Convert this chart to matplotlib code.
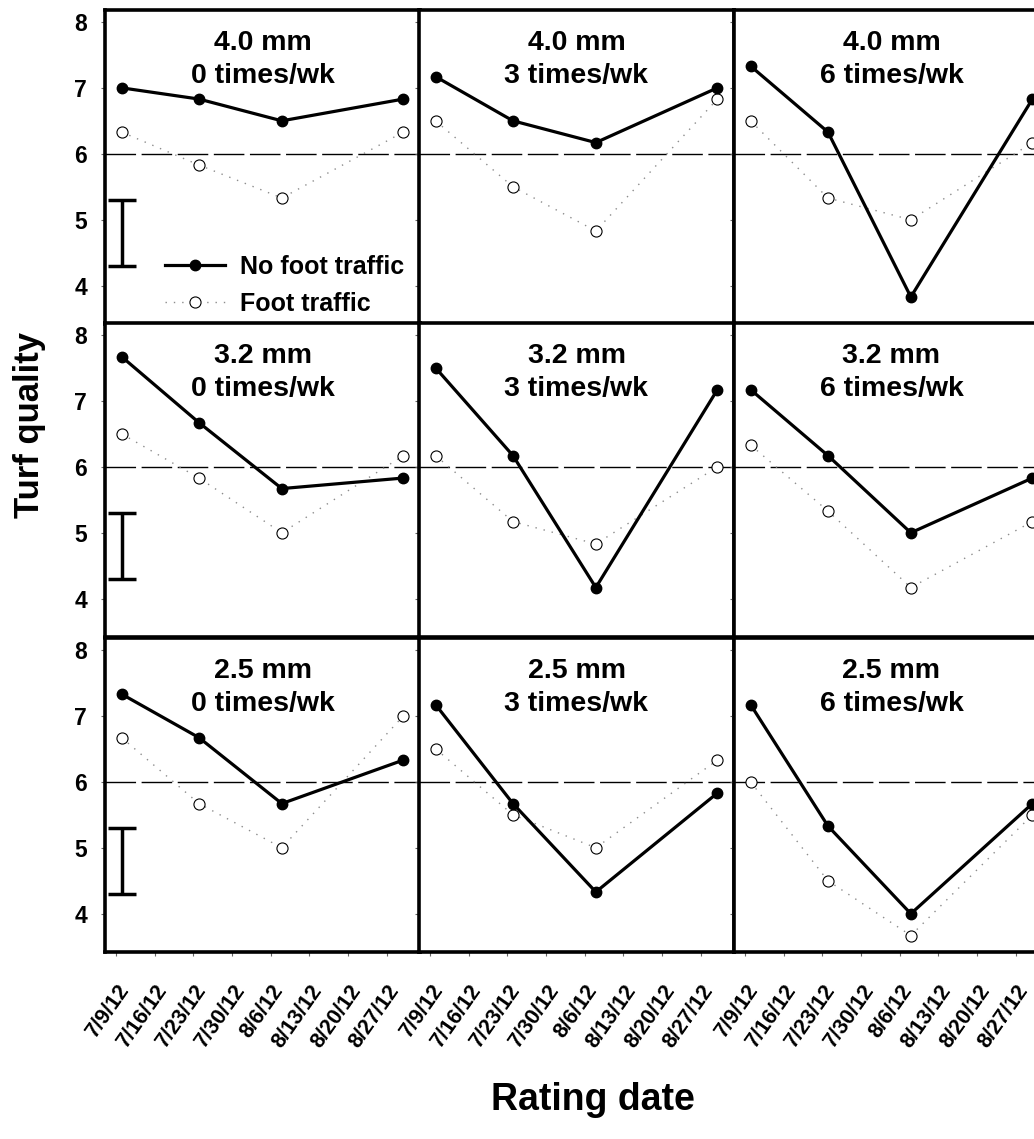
import numpy as np
import matplotlib
matplotlib.use("Agg")
import matplotlib.pyplot as plt

plt.rcParams['font.family'] = ['Liberation Sans', 'DejaVu Sans']
plt.rcParams['font.weight'] = 'bold'

# rating dates as days after 7/9/12
rating_days = [1, 15, 30, 52]
tick_days = [0, 7, 14, 21, 28, 35, 42, 49]
tick_labels = ['7/9/12', '7/16/12', '7/23/12', '7/30/12', '8/6/12', '8/13/12', '8/20/12', '8/27/12']

heights = ['4.0 mm', '3.2 mm', '2.5 mm']
frequencies = ['0 times/wk', '3 times/wk', '6 times/wk']

# no foot traffic, rows = height, cols = frequency
no_foot = [
    [[7.0, 6.83, 6.5, 6.83], [7.17, 6.5, 6.17, 7.0], [7.33, 6.33, 3.83, 6.83]],
    [[7.67, 6.67, 5.67, 5.83], [7.5, 6.17, 4.17, 7.17], [7.17, 6.17, 5.0, 5.83]],
    [[7.33, 6.67, 5.67, 6.33], [7.17, 5.67, 4.33, 5.83], [7.17, 5.33, 4.0, 5.67]],
]
foot = [
    [[6.33, 5.83, 5.33, 6.33], [6.5, 5.5, 4.83, 6.83], [6.5, 5.33, 5.0, 6.17]],
    [[6.5, 5.83, 5.0, 6.17], [6.17, 5.17, 4.83, 6.0], [6.33, 5.33, 4.17, 5.17]],
    [[6.67, 5.67, 5.0, 7.0], [6.5, 5.5, 5.0, 6.33], [6.0, 4.5, 3.67, 5.5]],
]
lsd_center = 4.8
lsd_half = 0.5
threshold = 6

W, H = 1034, 1139
fig = plt.figure(figsize=(W / 100, H / 100), dpi=100)

col_left = [105, 419, 734]
col_w = 315
row_top = [10, 323, 638]
row_h = 314

for r in range(3):
    for c in range(3):
        ax = fig.add_axes([col_left[c] / W, 1 - (row_top[r] + row_h) / H, col_w / W, row_h / H])
        ax.axhline(threshold, color='black', lw=1.0, dashes=(22, 4), zorder=1)
        ax.plot(rating_days, foot[r][c], color='0.55', lw=1.0, ls=(0, (1, 5)),
                marker='o', ms=8, mfc='white', mec='black', mew=0.8, label='Foot traffic', zorder=2)
        ax.plot(rating_days, no_foot[r][c], color='black', lw=2.3,
                marker='o', ms=7.5, mfc='black', mec='black', label='No foot traffic', zorder=3)
        ax.text(0.5, 0.935, heights[r] + '\n' + frequencies[c], transform=ax.transAxes,
                ha='center', va='top', fontsize=20.5, fontweight='bold', linespacing=1.35)
        if c == 0:
            ax.errorbar([1], [lsd_center], yerr=[lsd_half], color='black', lw=2.5,
                        capsize=10, capthick=2.5, zorder=4)
        ax.set_xlim(-2, 55)
        ax.set_ylim(3.42, 8.18)
        ax.set_yticks([4, 5, 6, 7, 8])
        ax.set_xticks(tick_days)
        for s in ax.spines.values():
            s.set_linewidth(2.6)
        ax.tick_params(axis='both', length=3, width=0.8, color='0.4', direction='out')
        if c == 0:
            ax.set_yticklabels(['4', '5', '6', '7', '8'], fontsize=16.5, fontweight='bold')
            ax.tick_params(axis='y', pad=10)
        else:
            ax.set_yticklabels([])
        if r == 2:
            ax.set_xticklabels(tick_labels, rotation=55, ha='right', va='top',
                               rotation_mode='anchor', fontsize=15.5, fontweight='bold')
            ax.tick_params(axis='x', pad=18)
        else:
            ax.tick_params(axis='x', length=0)
            ax.set_xticklabels([])
        if r == 0 and c == 0:
            h, l = ax.get_legend_handles_labels()
            ax.legend(h[::-1], l[::-1], loc='lower right', bbox_to_anchor=(1.02, -0.045),
                      frameon=False, handlelength=2.4, handletextpad=0.6,
                      labelspacing=0.5, prop={'weight': 'bold', 'size': 18})

fig.text(30 / W, 1 - 425 / H, 'Turf quality', rotation=90, ha='center', va='center',
         fontsize=25, fontweight='bold')
fig.text(593 / W, 1 - 1100 / H, 'Rating date', ha='center', va='center',
         fontsize=27, fontweight='bold')

fig.savefig('out.png', dpi=100)
